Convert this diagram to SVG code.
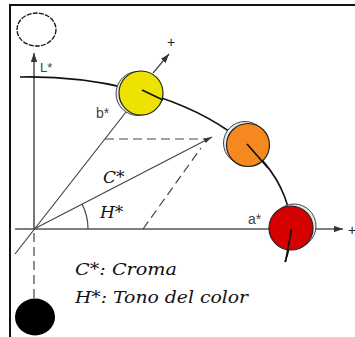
<svg xmlns="http://www.w3.org/2000/svg" width="355" height="337" viewBox="0 0 355 337">
<style>
.axis{stroke:#555;stroke-width:1.6;fill:none}
.thin{stroke:#444;stroke-width:1.2;fill:none}
.dash{stroke:#444;stroke-width:1.2;fill:none;stroke-dasharray:9 5}
.curve{stroke:#111;stroke-width:1.6;fill:none}
.back{fill:#e8e8e8;stroke:#444;stroke-width:1}
.front{stroke:#222;stroke-width:1.2}
.lab{font-family:"Liberation Sans",Arial,sans-serif;font-size:14px;fill:#444}
.it{font-family:"DejaVu Serif","Liberation Serif",serif;font-style:italic;font-size:16px;fill:#111}
.plus{font-family:"Liberation Sans",Arial,sans-serif;font-size:14px;fill:#222;text-anchor:middle}
</style>
<defs>
<marker id="ah" viewBox="0 0 10 7" refX="10" refY="3.5" markerWidth="9" markerHeight="6.5" markerUnits="userSpaceOnUse" orient="auto">
<path d="M0,0 L10,3.5 L0,7 z" fill="#333"/>
</marker>
<marker id="ahs" viewBox="0 0 10 6" refX="10" refY="3" markerWidth="10" markerHeight="5" markerUnits="userSpaceOnUse" orient="auto">
<path d="M0,0 L10,3 L0,6 z" fill="#333"/>
</marker>
</defs>
<g id="frame">
<path d="M10,337 L10,5 L355,5" fill="none" stroke="#111" stroke-width="2"/>
</g>
<g id="connectors">
<line class="axis" x1="34" y1="229" x2="34" y2="53" marker-end="url(#ah)"/>
<line class="axis" x1="15" y1="229" x2="343" y2="229" marker-end="url(#ah)"/>
<line class="dash" x1="34" y1="233" x2="34" y2="298"/>
<line class="thin" x1="15" y1="254" x2="126" y2="112"/>
<line class="thin" x1="34" y1="229" x2="212" y2="137" marker-end="url(#ahs)"/>
<line class="dash" x1="105" y1="139" x2="208" y2="139"/>
<line class="dash" x1="143" y1="229" x2="201" y2="148"/>
<path class="thin" d="M82,204 A54,54 0 0 1 88,229"/>
<path class="curve" d="M20,77 A262,153 0 0 1 285,262"/>
<line class="thin" x1="153" y1="73" x2="169" y2="54" marker-end="url(#ah)"/>
</g>
<g id="node-white">
<ellipse cx="36.5" cy="29.5" rx="19.5" ry="16.5" fill="#fff" stroke="#111" stroke-width="1.3" stroke-dasharray="5 1.2"/>
</g>
<g id="node-black">
<ellipse cx="35" cy="317" rx="20" ry="18.5" fill="#000"/>
</g>
<g id="node-yellow">
<circle class="back" cx="138" cy="93.5" r="22"/>
<circle class="front" cx="141" cy="93" r="22" fill="#eee200"/>
<path class="curve" d="M142,90 L163,100"/>
</g>
<g id="node-orange">
<circle class="back" cx="245" cy="143" r="21.5"/>
<circle class="front" cx="248" cy="145" r="21.5" fill="#f5891f"/>
<path class="curve" d="M247,144 L268,168"/>
</g>
<g id="node-red">
<circle class="back" cx="294" cy="226" r="22"/>
<circle class="front" cx="291" cy="228" r="22" fill="#d50000"/>
<path class="curve" d="M291.5,229 L285.5,262"/>
</g>
<g id="labels">
<text class="lab" x="40" y="72" style="font-size:13px">L*</text>
<text class="lab" x="96" y="118">b*</text>
<text class="lab" x="248" y="224">a*</text>
<text class="plus" x="171" y="47">+</text>
<text class="plus" x="352" y="235">+</text>
<text class="it" x="103" y="183" style="font-size:17px">C*</text>
<text class="it" x="100" y="218" style="font-size:17px">H*</text>
<text class="it" x="75" y="275" textLength="102" lengthAdjust="spacingAndGlyphs">C*: Croma</text>
<text class="it" x="75" y="303" textLength="173" lengthAdjust="spacingAndGlyphs">H*: Tono del color</text>
</g>
</svg>
